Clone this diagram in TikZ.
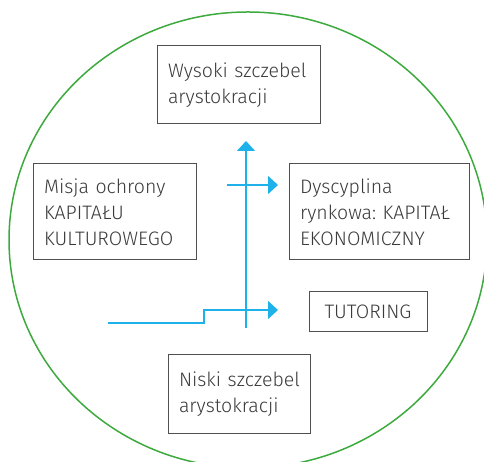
\documentclass[tikz,border=0pt]{standalone}
\usepackage{fontspec}
\setmainfont{Fira Sans Light}
\frenchspacing
\usetikzlibrary{arrows.meta}
\definecolor{ringgreen}{HTML}{3DAA3E}
\definecolor{flowblue}{HTML}{1EB1EA}
\definecolor{boxgray}{HTML}{505050}
\definecolor{txtgray}{HTML}{3A3A3A}
\begin{document}
\begin{tikzpicture}[x=1pt,y=1pt,
  box/.style={draw=boxgray, line width=1pt, rectangle, inner xsep=11pt, inner ysep=0pt,
    text=txtgray, align=left, font=\fontsize{19.5}{26}\selectfont\frenchspacing},
  flow/.style={draw=flowblue, line width=1.4pt},
  flowarrow/.style={flow, -{Triangle[width=18pt,length=10pt]}}]
\useasboundingbox (0,0) rectangle (484,462);
\clip (0,0) rectangle (484,462);
\draw[ringgreen, line width=1.5pt] (248,222) ellipse [x radius=239, y radius=228];
\node[box, minimum width=163pt, minimum height=78pt, text width=141pt] (high) at (238.5,377) {\mbox{Wysoki szczebel}\\arystokracji};
\node[box, minimum width=163pt, minimum height=96pt, text width=141pt] (misja) at (114.5,250) {\mbox{Misja ochrony}\\KAPITAŁU\\KULTUROWEGO};
\node[box, minimum width=180pt, minimum height=96pt, text width=158pt] (dys) at (379,250) {Dyscyplina\\\mbox{rynkowa: KAPITAŁ}\\EKONOMICZNY};
\node[box, minimum width=118pt, minimum height=40pt, align=center] (tut) at (368,150) {TUTORING};
\node[box, minimum width=142pt, minimum height=79pt, text width=120pt] (low) at (239,67.5) {\mbox{Niski szczebel}\\arystokracji};
\coordinate (vs) at (246,134);
\coordinate (ve) at (246,321);
\coordinate (hs) at (227,277);
\coordinate (he) at (278,277);
\coordinate (ss) at (108,139);
\coordinate (sk) at (204,152);
\coordinate (se) at (278,152);
\draw[flowarrow] (vs) -- (ve);
\draw[flowarrow] (hs) -- (he);
\draw[flowarrow] (ss) -| (sk) -- (se);
\end{tikzpicture}
\end{document}
